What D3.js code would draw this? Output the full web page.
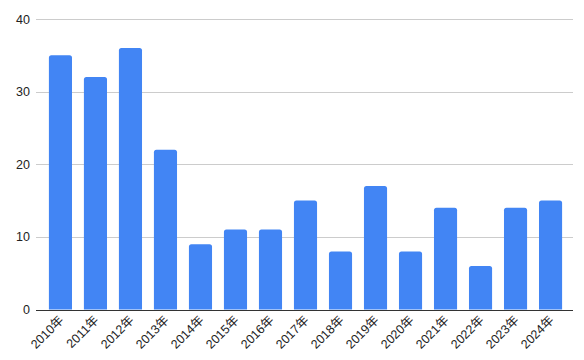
<!DOCTYPE html>
<html>
<head>
<meta charset="utf-8">
<script src="https://cdn.jsdelivr.net/npm/d3@7"></script>
<style>
  body { margin: 0; background: #fff; }
  text { font-family: "Liberation Sans", Arial, "Noto Sans CJK SC", sans-serif; }
</style>
</head>
<body>
<div id="chart"></div>
<script>
// data
var years = ["2010年", "2011年", "2012年", "2013年", "2014年", "2015年", "2016年", "2017年",
    "2018年", "2019年", "2020年", "2021年", "2022年", "2023年", "2024年"];
var counts = [35, 32, 36, 22, 9, 11, 11, 15, 8, 17, 8, 14, 6, 14, 15];
var yTicks = [0, 10, 20, 30, 40];

var width = 584,
    height = 360;

var svg = d3.select('#chart')
    .append('svg')
    .attr('width', width)
    .attr('height', height);

var x_scale = d3.scaleBand()
    .domain(years)
    .range([37, 574])
    .padding(0.34);

var y_scale = d3.scaleLinear()
    .domain([0, 40])
    .range([309.5, 19]);

// gridlines
svg.append('g')
    .selectAll('line')
    .data(yTicks)
    .enter()
    .append('line')
    .attr('x1', 36)
    .attr('x2', 573)
    .attr('y1', d => Math.round(y_scale(d)) + 0.5)
    .attr('y2', d => Math.round(y_scale(d)) + 0.5)
    .attr('stroke', d => d == 0 ? '#333' : '#ccc')
    .attr('stroke-width', 1);

// y labels
svg.append('g')
    .selectAll('text')
    .data(yTicks)
    .enter()
    .append('text')
    .attr('x', 30)
    .attr('y', d => y_scale(d) + 4.5)
    .attr('text-anchor', 'end')
    .attr('font-size', 12.5)
    .attr('fill', '#222')
    .text(d => d);

// bars, rounded at the top
function barPath(x, y, w, h, r) {
    return 'M' + x + ',' + (y + h) +
        'V' + (y + r) +
        'Q' + x + ',' + y + ' ' + (x + r) + ',' + y +
        'H' + (x + w - r) +
        'Q' + (x + w) + ',' + y + ' ' + (x + w) + ',' + (y + r) +
        'V' + (y + h) + 'Z';
}

svg.append('g')
    .selectAll('path')
    .data(counts)
    .enter()
    .append('path')
    .attr('d', (d, i) => {
        var x = x_scale(years[i]);
        var y = y_scale(d);
        return barPath(x, y, x_scale.bandwidth(), y_scale(0) - y, 2.5);
    })
    .attr('fill', '#4285f4');

// redraw baseline over bars
svg.append('line')
    .attr('x1', 36)
    .attr('x2', 573)
    .attr('y1', Math.round(y_scale(0)) + 0.5)
    .attr('y2', Math.round(y_scale(0)) + 0.5)
    .attr('stroke', '#333');

// x labels rotated
svg.append('g')
    .selectAll('text')
    .data(years)
    .enter()
    .append('text')
    .attr('transform', d => 'translate(' + (x_scale(d) + x_scale.bandwidth() / 2 + 4) + ',321) rotate(-45)')
    .attr('text-anchor', 'end')
    .attr('font-size', 12.5)
    .attr('fill', '#222')
    .text(d => d);
</script>
</body>
</html>
